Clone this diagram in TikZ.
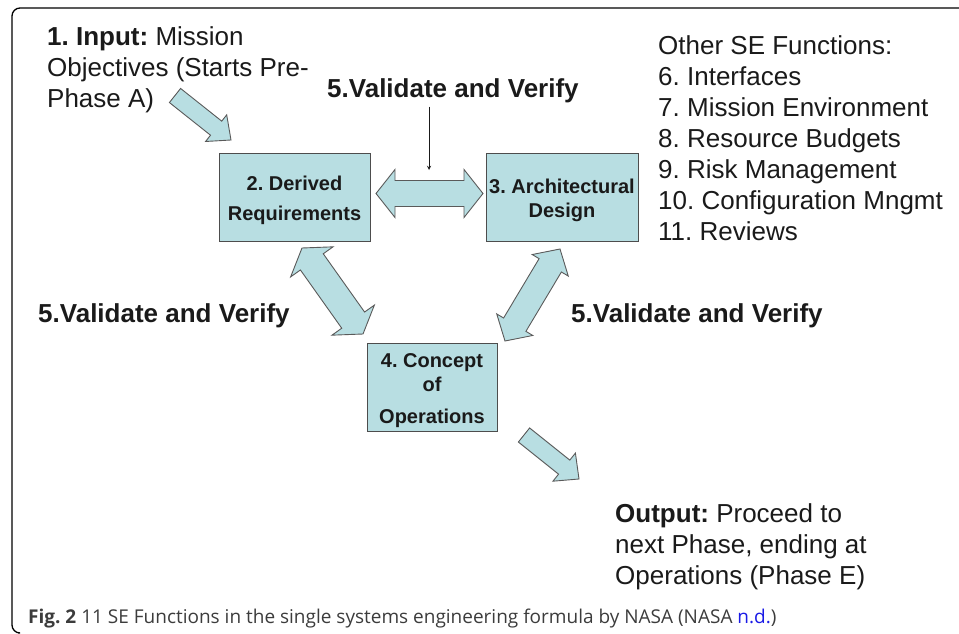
\documentclass[tikz,border=0pt]{standalone}
\usepackage{fontspec}
\setmainfont{Liberation Sans}
\newfontfamily\capfont{Open Sans}
\usetikzlibrary{calc}
\frenchspacing

\definecolor{boxfill}{HTML}{B8DEE2}
\definecolor{boxline}{HTML}{4D4D4D}
\definecolor{arrline}{HTML}{5A5A5A}
\definecolor{textcol}{HTML}{1A1A1A}
\definecolor{capblue}{HTML}{1A1AE6}

\tikzset{
    box/.style={draw=boxline, fill=boxfill, line width=0.9pt, inner sep=0pt,
        align=center, text=textcol, font=\bfseries\fontsize{20}{24}\selectfont},
    blk/.style={draw=arrline, fill=boxfill, line width=0.9pt, line join=miter},
    vlabel/.style={anchor=base west, inner sep=0pt, text=textcol,
        font=\bfseries\fontsize{26}{31}\selectfont},
    plain/.style={anchor=base west, inner sep=0pt, align=left, text=textcol,
        font=\fontsize{26}{31}\selectfont},
}

% lowers the box text a little
\newcommand{\dn}{\rule{0pt}{21pt}}

% block arrow: from, to, half shaft, half head, head length
\newcommand{\onearrow}[5]{%
    \coordinate (ba1) at ($(#2)!#5!(#1)$);
    \draw[blk] ($(#1)!#3!90:(#2)$) -- ($(ba1)!#3!-90:(#1)$) -- ($(ba1)!#4!-90:(#1)$)
        -- (#2) -- ($(ba1)!#4!90:(#1)$) -- ($(ba1)!#3!90:(#1)$) -- ($(#1)!#3!-90:(#2)$) -- cycle;}
\newcommand{\twoarrow}[5]{%
    \coordinate (ba1) at ($(#1)!#5!(#2)$);
    \coordinate (ba2) at ($(#2)!#5!(#1)$);
    \draw[blk] (#1) -- ($(ba1)!#4!90:(#2)$) -- ($(ba1)!#3!90:(#2)$) -- ($(ba2)!#3!-90:(#1)$)
        -- ($(ba2)!#4!-90:(#1)$) -- (#2) -- ($(ba2)!#4!90:(#1)$) -- ($(ba2)!#3!90:(#1)$)
        -- ($(ba1)!#3!-90:(#2)$) -- ($(ba1)!#4!-90:(#2)$) -- cycle;}

\begin{document}
\begin{tikzpicture}[x=1pt, y=-1pt]
    \useasboundingbox (0,0) rectangle (959,634);
    \draw[line width=1.3pt, rounded corners=8pt] (959,8) -- (12,8) -- (12,633) -- (18,633);

    % boxes
    \node[box, minimum width=151, minimum height=88] (req) at (294.5,197)
        {\dn 2. Derived\\[6pt]Requirements};
    \node[box, minimum width=152, minimum height=88] (arch) at (562,197)
        {\dn 3. Architectural\\Design};
    \node[box, minimum width=130, minimum height=88] (conops) at (432,387)
        {\dn 4. Concept\\of\\[8pt]Operations};

    % texts (anchored at the last line)
    \node[plain] (input) at (47,107.5)
        {\textbf{1. Input:} Mission\\Objectives (Starts Pre-\\Phase A)};
    \node[plain] (other) at (658,240)
        {Other SE Functions:\\6. Interfaces\\7. Mission Environment\\8. Resource Budgets\\%
         9. Risk Management\\10. Configuration Mngmt\\11. Reviews};
    \node[plain] (output) at (615,584)
        {\textbf{Output:} Proceed to\\next Phase, ending at\\Operations (Phase E)};

    \node[vlabel] (vvtop) at (327,97) {5.Validate and Verify};
    \node[vlabel] (vvleft) at (38,322) {5.Validate and Verify};
    \node[vlabel] (vvright) at (571,322) {5.Validate and Verify};

    \node[anchor=base west, inner sep=0pt, text=textcol!85,
        font=\capfont\fontsize{19}{23}\selectfont] (caption) at (28,623)
        {\textbf{Fig. 2} 11 SE Functions in the single systems engineering formula by NASA (NASA \textcolor{capblue}{n.d.})};

    % arrow ends
    \coordinate (inA) at (175,95.5);
    \coordinate (inB) at (231,140);
    \coordinate (raL) at (376,193.5);
    \coordinate (raR) at (483,193.5);
    \coordinate (rcA) at (302,248);
    \coordinate (rcB) at (363,334);
    \coordinate (acA) at (560,249);
    \coordinate (acB) at (505,341);
    \coordinate (outA) at (524,435);
    \coordinate (outB) at (579,479);
    \coordinate (vvend) at (429,170);

    \onearrow{inA}{inB}{9pt}{17pt}{19pt}
    \twoarrow{raL}{raR}{13pt}{24pt}{19pt}
    \twoarrow{rcA}{rcB}{14pt}{26pt}{17pt}
    \twoarrow{acA}{acB}{13pt}{21pt}{19pt}
    \onearrow{outA}{outB}{9pt}{18pt}{19pt}

    \draw[-stealth, line width=0.9pt, textcol] (vvtop.south -| vvend) ++(0,4) -- (vvend);
\end{tikzpicture}
\end{document}
